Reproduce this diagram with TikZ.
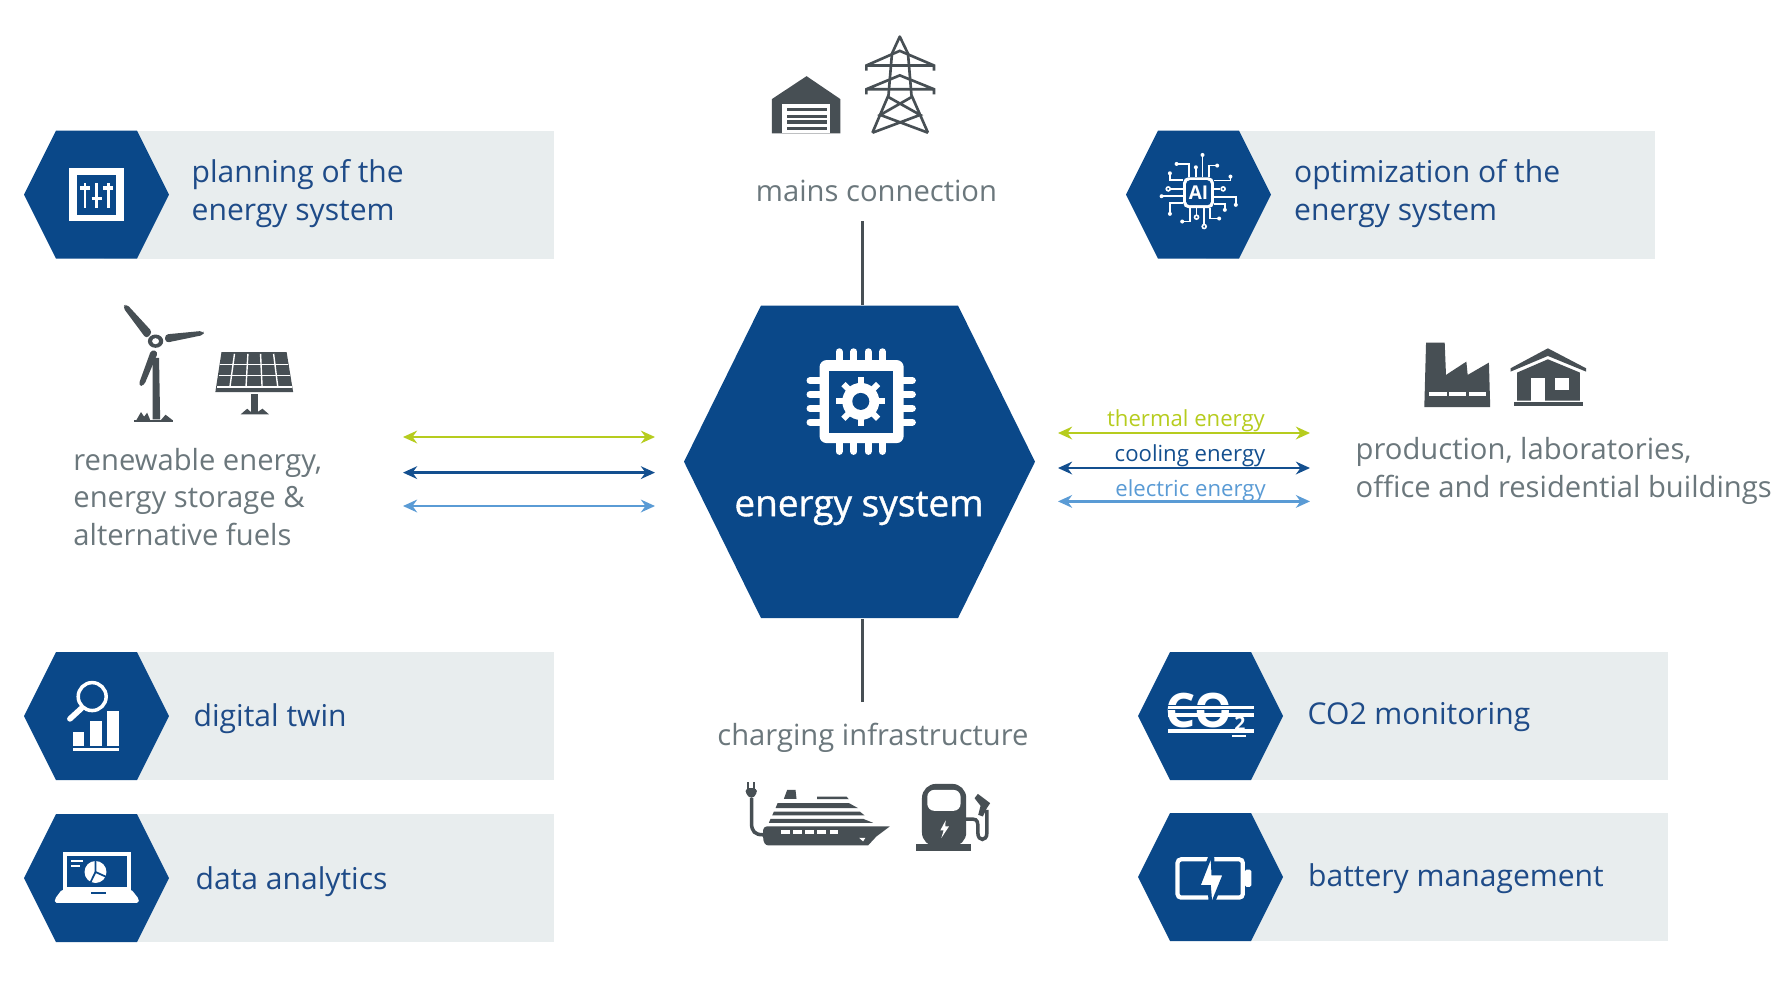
\documentclass[tikz,border=0pt]{standalone}
\usepackage{fontspec}
\usetikzlibrary{arrows.meta}
\setmainfont{Open Sans}
\newfontfamily\semibold[FakeBold=1]{Open Sans}
\definecolor{hexblue}{HTML}{0A4889}
\definecolor{barfill}{HTML}{E8EDEE}
\definecolor{bluetext}{HTML}{1E4B88}
\definecolor{greytext}{HTML}{6B777C}
\definecolor{icongrey}{HTML}{474F54}
\definecolor{thermalcol}{HTML}{B6CC1E}
\definecolor{coolingcol}{HTML}{134F8F}
\definecolor{electriccol}{HTML}{5A9BD5}
\tikzset{
  bannertext/.style={anchor=west,align=left,inner sep=0pt,text=bluetext,font=\fontsize{8.55}{10.8}\selectfont},
  greylabel/.style={align=left,inner sep=0pt,text=greytext,font=\fontsize{8.3}{10.7}\selectfont},
  flowlabel/.style={inner sep=0pt,font=\fontsize{6.3}{8}\selectfont},
  flowarrow/.style={{Stealth[length=4pt,width=3.6pt]}-{Stealth[length=4pt,width=3.6pt]},line width=0.65pt},
  stemline/.style={draw=icongrey,line width=0.85pt},
  leftcrop/.style={x=0.003827cm,y=-0.003333cm},
  midcrop/.style={x=0.004337cm,y=-0.003953cm},
  rightcrop/.style={x=0.004337cm,y=-0.003333cm},
  fullcrop/.style={x=0.003333cm,y=-0.003333cm},
  trace/.style={draw=white,line width=0.42pt},
}
\begin{document}
\begin{tikzpicture}[x=0.01cm,y=-0.01cm]
\useasboundingbox[fill=white] (0,0) rectangle (1781,1002);

\foreach \xl/\yt/\xr in {24/130.7/554,24/652/554,24/814/554,1126/130.7/1655,1138/652/1668,1138/813/1668}{
  \fill[barfill] (\xl+80,\yt) rectangle (\xr,\yt+128);
  \fill[hexblue] (\xl,\yt+64) -- (\xl+32,\yt) -- (\xl+113,\yt) -- (\xl+145,\yt+64) -- (\xl+113,\yt+128) -- (\xl+32,\yt+128) -- cycle;
}

\node[bannertext] (planning) at (191,194) {planning of the\\energy system};
\node[bannertext] (optimization) at (1293.5,194) {optimization of the\\energy system};
\node[bannertext] (twin) at (193,718.5) {digital twin};
\node[bannertext] (analytics) at (195,881.5) {data analytics};
\node[bannertext] (monitoring) at (1307,717) {CO2 monitoring};
\node[bannertext] (battery) at (1307.5,878.5) {battery management};

\node[greylabel] (mains) at (876.5,191) {mains connection};
\node[greylabel] (charging) at (873,737.5) {charging infrastructure};
\node[greylabel,anchor=west] (renewable) at (72.7,497) {renewable energy,\\energy storage \&\\alternative fuels};
\node[greylabel,anchor=west] (production) at (1355,471) {production, laboratories,\\office and residential buildings};

\node[minimum width=3.51cm,minimum height=3.125cm,inner sep=0pt] (core) at (859.5,461.7) {};
\coordinate (mainsend) at (862.5,221);
\coordinate (chargeend) at (862.5,702);
\draw[stemline] (mainsend) -- (mainsend |- core.north);
\draw[stemline] (chargeend) -- (chargeend |- core.south);
\fill[hexblue] (684,461.7) -- (761,305.5) -- (958,305.5) -- (1035,461.7) -- (958,618) -- (761,618) -- cycle;
\node[inner sep=0pt,text=white,font=\fontsize{10.5}{12}\semibold] (corename) at (859,508.5) {energy system};

\foreach \name/\y in {thermalleft/437,coolingleft/472.6,electricleft/506}{
  \coordinate (\name a) at (403,\y);
  \coordinate (\name b) at (655,\y);
}
\foreach \name/\y in {thermalright/433,coolingright/468,electricright/501.4}{
  \coordinate (\name a) at (1058,\y);
  \coordinate (\name b) at (1310,\y);
}
\foreach \name/\col in {thermalleft/thermalcol,coolingleft/coolingcol,electricleft/electriccol,thermalright/thermalcol,coolingright/coolingcol,electricright/electriccol}{
  \draw[flowarrow,\col] (\name a) -- (\name b);
}
\node[flowlabel,text=thermalcol] (thermal) at (1186,421) {thermal energy};
\node[flowlabel,text=coolingcol] (cooling) at (1190,456) {cooling energy};
\node[flowlabel,text=electriccol] (electric) at (1190.5,491) {electric energy};

\begin{scope}[shift={(660,20)},midcrop]
  \foreach \x in {413,447,480,513} \draw[white,line width=2pt,line cap=round] (\x,839) -- (\x,1091);
  \foreach \y in {912,947,982,1017} \draw[white,line width=2pt,line cap=round] (346,\y) -- (582,\y);
  \fill[white,rounded corners=2pt] (368,860) rectangle (562,1070);
  \fill[hexblue] (390,887) rectangle (538,1045);
\end{scope}
\coordinate (gearhub) at (860.8,401.4);
\foreach \a in {0,45,...,315} \draw[white,line width=1.7pt] (gearhub) -- ++(\a:24.5);
\fill[white] (gearhub) circle (18.5);
\fill[hexblue] (gearhub) circle (8.5);

\begin{scope}[shift={(0,20)},leftcrop]
  \fill[white] (181,445) rectangle (323,605);
  \fill[hexblue] (201,465) rectangle (304,585);
  \foreach \x/\k in {222/505,252/537,283/505}{
    \draw[white,line width=0.7pt] (\x,490) -- (\x,565);
    \draw[white,line width=1pt] (\x-13,\k) -- (\x+13,\k);
  }
\end{scope}

\begin{scope}[shift={(1110,120)},fullcrop]
  \draw[trace] (278,172) -- (278,105) (258,172) -- (258,140) (238,172) -- (238,132) -- (200,132) (298,172) -- (298,137) -- (322,137)
    (218,180) -- (180,180) -- (180,160) (312,182) -- (362,182) -- (362,170) (218,207) -- (182,207) (312,207) -- (332,207)
    (218,229) -- (155,229) (312,232) -- (378,232) -- (378,255) (218,250) -- (180,250) -- (180,282) (312,252) -- (345,252) -- (345,270)
    (260,265) -- (260,285) (240,265) -- (240,305) -- (217,305) (283,265) -- (283,312) (300,265) -- (300,296) -- (328,296);
  \foreach \x/\y in {278/105,258/142,200/132,322/137,180/160,362/170,155/229,378/255,180/282,345/270,217/305,328/296}
    \fill[white] (\x,\y) circle (6);
  \foreach \x/\y in {175/207,340/207,260/292,283/320}
    \draw[white,line width=0.45pt] (\x,\y) circle (6);
  \fill[white,rounded corners=1.5pt] (220,172) rectangle (312,265);
  \fill[hexblue,rounded corners=1pt] (229,181) rectangle (303,256);
  \node[inner sep=0pt,text=white,font=\fontsize{5.4}{6}\bfseries] (aichip) at (266,218) {AI};
\end{scope}

\begin{scope}[shift={(0,640)},fullcrop]
  \draw[white,line width=1pt] (277,170) circle (42);
  \draw[white,line width=1.6pt,line cap=round] (245,205) -- (210,237);
  \fill[white] (218,275) rectangle (253,318);
  \fill[white] (270,243) rectangle (305,318);
  \fill[white] (322,212) rectangle (358,318);
  \fill[white] (218,325) rectangle (358,332);
  \fill[white] (188,637) rectangle (393,752);
  \fill[hexblue] (200,650) rectangle (381,743);
  \fill[white,rounded corners=0.5pt] (186,750) -- (395,750) -- (417,778) -- (417,790) -- (165,790) -- (165,778) -- cycle;
  \fill[hexblue] (272,757) rectangle (318,763);
  \fill[white] (213,662) rectangle (250,668);
  \fill[white] (213,675) rectangle (240,681);
  \fill[white] (287,697) circle (33);
  \draw[hexblue,line width=0.5pt] (287,664) -- (287,697) -- (320,712);
  \draw[hexblue,line width=0.5pt] (287,697) -- (272,728);
\end{scope}

\begin{scope}[shift={(1120,640)},fullcrop]
  \node[inner sep=0pt,text=white,font=\fontsize{13.5}{15}\bfseries] (colabel) at (237,213) {CO};
  \node[inner sep=0pt,text=white,font=\fontsize{5.5}{6}\bfseries] (cosub) at (360,250) {2};
  \foreach \y in {203,225,273}{
    \fill[hexblue] (145,\y-7) rectangle (405,\y+7);
    \fill[white] (145,\y-5) rectangle (403,\y+5);
  }
  \fill[white] (338,284) rectangle (378,290);
  \draw[white,line width=1.2pt,rounded corners=1pt] (173,659) rectangle (369,774);
  \fill[white,rounded corners=0.5pt] (375,690) rectangle (395,742);
  \filldraw[fill=white,draw=hexblue,line width=1pt] (277,635) -- (235,742) -- (268,742) -- (273,805) -- (315,702) -- (280,702) -- cycle;
\end{scope}

\begin{scope}[shift={(0,20)},leftcrop,icongrey]
  \fill (398,1015) -- (415,1015) -- (418,1200) -- (398,1200) -- cycle;
  \fill (350,1202) rectangle (452,1208);
  \fill (356,1202) -- (368,1178) -- (376,1192) -- (384,1180) -- (392,1202) -- cycle;
  \fill (420,1202) -- (432,1186) -- (450,1202) -- cycle;
  \fill[rounded corners=1pt] (330,853) -- (398,938) -- (382,958) -- (320,862) -- cycle;
  \fill[rounded corners=1pt] (430,945) -- (530,934) -- (533,946) -- (432,970) -- cycle;
  \fill[rounded corners=1pt] (395,990) -- (413,997) -- (375,1100) -- (361,1098) -- cycle;
  \fill (406,965) circle (20);
  \fill[white] (406,965) circle (9);
  \fill (578,998) -- (748,998) -- (765,1118) -- (562,1118) -- cycle;
  \draw[white,line width=0.4pt] (575,1035) -- (752,1035) (571,1068) -- (757,1068) (566,1103) -- (761,1103);
  \foreach \a/\b in {612/600,647/642,680/684,714/725} \draw[white,line width=0.4pt] (\a,1003) -- (\b,1103);
  \fill (655,1125) rectangle (672,1178);
  \fill (628,1185) -- (645,1168) -- (655,1178) -- (672,1178) -- (685,1168) -- (702,1185) -- cycle;
\end{scope}

\begin{scope}[shift={(660,20)},midcrop,icongrey]
  \fill (258,200) -- (338,142) -- (416,200) -- (416,287) -- (258,287) -- cycle;
  \fill[white] (282,212) rectangle (392,287);
  \foreach \y in {227,243,258,274} \fill (292,\y-4) rectangle (386,\y+4);
  \draw[line width=0.75pt,line join=round] (490,285) -- (527,190) -- (535,85) -- (553,42) -- (572,85) -- (580,190) -- (618,285);
  \draw[line width=0.75pt] (476,128) -- (476,115) -- (553,78) -- (632,115) -- (632,128) (476,115) -- (632,115);
  \draw[line width=0.75pt] (476,188) -- (476,175) -- (553,140) -- (632,175) -- (632,188) (476,175) -- (632,175);
  \draw[line width=0.75pt] (527,195) -- (600,240) -- (490,285) (580,195) -- (508,240) -- (618,285);
\end{scope}

\begin{scope}[shift={(1100,320)},rightcrop,icongrey]
  \fill (752,68) -- (795,68) -- (798,165) -- (845,125) -- (848,165) -- (897,128) -- (900,262) -- (748,262) -- cycle;
  \foreach \a/\b in {758/800,805/845,850/890} \fill[white] (\a,215) rectangle (\b,227);
  \fill (947,145) -- (1033,85) -- (1121,145) -- (1121,155) -- (1033,108) -- (947,155) -- cycle;
  \fill (962,158) -- (1033,118) -- (1107,158) -- (1107,242) -- (962,242) -- cycle;
  \fill[white] (993,175) rectangle (1027,242);
  \fill[white] (1050,175) rectangle (1082,210);
  \fill (955,245) rectangle (1115,258);
\end{scope}

\begin{scope}[shift={(700,700)},fullcrop,icongrey]
  \fill (200,380) -- (570,380) -- (530,410) -- (505,437) -- (205,437) .. controls (195,437) and (190,425) .. (190,415) -- (190,390) .. controls (190,385) and (195,380) .. (200,380) -- cycle;
  \foreach \a in {243,280,316,352,390} \fill[white] (\a,390) rectangle (\a+26,402);
  \fill[white] (478,414) -- (497,414) -- (490,425) -- cycle;
  \fill (212,357) -- (490,357) -- (520,369) -- (207,369) -- cycle;
  \fill (222,335) -- (480,335) -- (495,347) -- (217,347) -- cycle;
  \fill (233,310) -- (448,310) -- (475,325) -- (227,325) -- cycle;
  \fill (262,270) -- (287,270) -- (290,297) -- (252,297) -- cycle;
  \fill (352,290) -- (440,290) -- (447,298) -- (352,298) -- cycle;
  \draw[line width=1pt] (190,405) .. controls (165,405) and (155,395) .. (155,370) -- (155,295);
  \fill[rounded corners=1pt] (137,265) -- (171,265) -- (171,282) -- (155,298) -- (137,282) -- cycle;
  \fill (140,245) rectangle (147,266);
  \fill (159,245) rectangle (166,266);
  \fill[rounded corners=4pt] (667,440) -- (667,252) -- (800,252) -- (800,440) -- cycle;
  \fill[white,rounded corners=2pt] (683,270) rectangle (783,333);
  \fill (650,432) rectangle (815,455);
  \fill[white] (738,362) -- (722,392) -- (732,392) -- (725,415) -- (748,380) -- (737,380) -- cycle;
  \draw[line width=1pt] (800,358) -- (820,358) .. controls (835,358) and (835,370) .. (835,385) -- (835,400) .. controls (835,425) and (862,425) .. (862,400) -- (862,330);
  \fill (835,282) -- (872,310) -- (862,325) -- (850,350) -- (836,345) -- (843,318) -- (825,295) -- cycle;
\end{scope}
\end{tikzpicture}
\end{document}
